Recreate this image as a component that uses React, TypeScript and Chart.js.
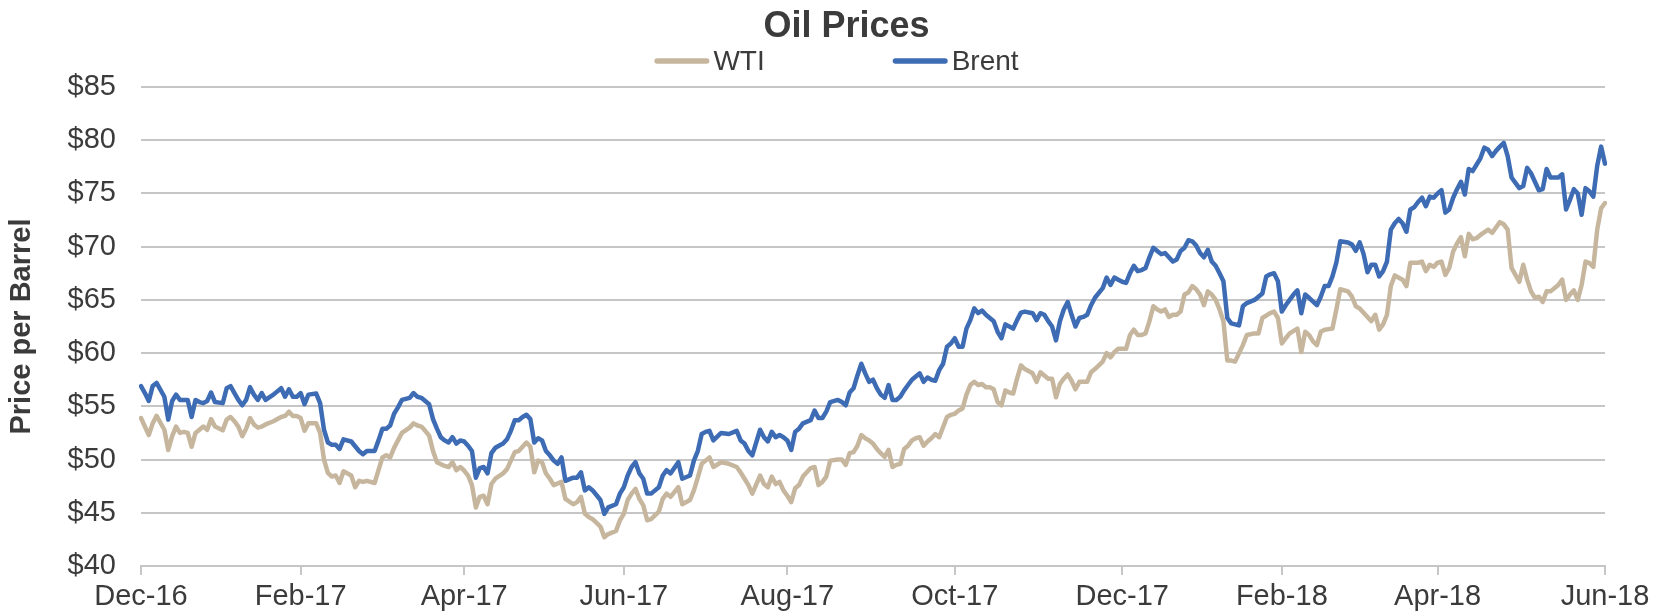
import React, { useEffect, useRef } from "react";
import { Chart, registerables } from "chart.js";

Chart.register(...registerables);

// ---------- text ----------
const TITLE = "Oil Prices";
const Y_TITLE = "Price per Barrel";
const SERIES_NAMES = ["WTI", "Brent"];

// ---------- calendar (NYMEX trading days) ----------
const START = "2016-12-01";
const END = "2018-06-01";
const HOLIDAYS = [
  "2016-12-26", "2017-01-02", "2017-01-16", "2017-02-20", "2017-04-14",
  "2017-05-29", "2017-07-04", "2017-09-04", "2017-11-23", "2017-12-25",
  "2018-01-01", "2018-01-15", "2018-02-19", "2018-03-30", "2018-05-28",
];
const MONTHS = ["Jan", "Feb", "Mar", "Apr", "May", "Jun", "Jul", "Aug", "Sep", "Oct", "Nov", "Dec"];
const TICK_LABELS = ["Dec-16", "Feb-17", "Apr-17", "Jun-17", "Aug-17", "Oct-17", "Dec-17", "Feb-18", "Apr-18", "Jun-18"];

// ---------- y axis ----------
const Y_MIN = 40;
const Y_MAX = 85;
const Y_STEP = 5;

// ---------- series: one value per trading day ($/bbl), null = not read ----------
const WTI = [
  53.9, 53.1, 52.3, 53.4, 54.1, null, 52.8, 50.9, 52.2, 53.1,
  52.5, 52.6, 52.5, 51.2, 52.5, 52.8, 53.1, 52.8, 53.8, 53.1,
  null, 52.75, 53.75, 54.0, 53.6, 53.1, 52.2, 52.9, 53.9, 53.3,
  53.0, 53.1, 53.3, null, 53.6, null, 54.0, 54.1, 54.5, 54.1,
  54.1, 53.9, 52.7, 53.4, null, 53.4, 52.5, 50.0, 48.75, 48.4,
  48.5, 47.8, 48.9, null, 48.5, 47.4, 48.0, 47.9, 48.0, null,
  47.8, 49.0, 50.2, 50.4, 50.2, 51.1, 51.8, 52.5, null, 53.0,
  53.4, 53.2, 53.1, 52.7, 52.25, 50.8, 49.75, null, 49.4, 49.3,
  49.75, 49.0, 49.3, 48.97, 48.5, 47.6, 45.5, 46.5, 46.6, 45.8,
  47.7, 48.2, null, 48.7, 49.1, 49.9, 50.7, 50.8, 51.2, 51.6,
  51.2, 48.8, 49.9, 49.75, 48.7, 48.2, 47.6, null, 47.9, 46.3,
  null, 45.8, 46.0, 46.5, 44.9, 44.6, 44.4, null, 43.7, 42.7,
  43.0, null, 43.3, 44.3, 44.9, 46.2, 46.8, 47.25, 46.3, 45.7,
  44.3, 44.4, null, 45.1, 46.3, 46.8, 46.5, null, 47.4, 45.8,
  null, 46.2, 47.1, 48.3, 49.6, 49.9, 50.2, 49.3, null, 49.75,
  null, 49.6, null, 49.3, 48.8, 48.2, 47.6, 46.8, null, 48.5,
  47.7, 47.4, 48.4, 47.7, 47.9, 47.1, 46.6, 46.0, 47.3, 47.6,
  48.4, null, 49.2, 49.3, 47.6, 47.9, 48.4, 49.9, null, 50.0,
  50.0, 49.5, 50.6, 50.7, 51.3, 52.3, 52.0, 51.8, 51.5, 51.0,
  50.6, 50.25, 50.9, 49.3, 49.5, 49.6, 51.0, 51.3, 51.8, 52.0,
  52.1, 51.3, 51.7, 52.0, 52.4, 52.1, null, 54.0, 54.2, 54.3,
  54.6, 54.8, 56.1, 57.0, 57.3, 57.0, 57.1, 56.8, 56.8, 56.6,
  55.4, 55.1, 56.5, 56.3, 56.2, 57.6, 58.85, 58.5, null, 58.1,
  57.3, 58.2, 57.9, 57.6, 57.6, 55.85, 57.1, 57.6, 58.0, 57.4,
  56.6, 57.3, 57.3, 57.3, 58.2, 58.5, null, 59.2, 60.0, 59.6,
  60.1, 60.4, 60.4, 60.4, 61.7, 62.2, 61.7, 61.7, 61.85, 63.0,
  64.4, 64.1, 63.9, 64.1, 63.4, 63.6, 63.6, 63.9, 65.5, 65.7,
  66.3, 66.0, 65.5, 64.5, 65.8, 65.5, 65.0, 64.1, 63.0, 59.3,
  59.3, 59.2, null, 60.75, 61.7, null, 61.85, 61.85, 63.3, null,
  63.75, 63.9, 63.3, 60.9, 61.4, 61.85, null, 62.3, 60.1, 62.0,
  61.7, 61.1, 60.75, 62.0, 62.2, null, 62.3, 64.1, 66.0, null,
  65.8, 65.3, 64.4, 64.2, null, 63.4, 63.0, 63.6, 62.2, 62.7,
  63.6, 66.3, 67.3, null, 66.9, 66.3, 68.5, 68.5, 68.5, 68.6,
  67.7, 68.3, 68.1, 68.5, 68.6, 67.35, 68.0, 69.55, 70.3, 70.9,
  69.1, 71.2, 70.7, 70.8, 71.1, null, 71.6, 71.3, 71.8, 72.3,
  72.1, 71.6, 68.0, 67.35, 66.7, 68.3, 66.9, 65.8, 65.2, 65.3,
  64.8, 65.8, 65.8, 66.1, 66.4, 66.9, 65.0, 65.5, 65.9, 65.0,
  66.4, 68.6, 68.45, 68.1, 71.6, 73.6, 74.1,
];

const BRENT = [
  56.9, 56.25, 55.5, 56.9, 57.2, null, 55.9, 53.75, 55.5, 56.1,
  55.6, 55.6, 55.6, 54.0, 55.6, 55.4, 55.3, 55.5, 56.3, 55.4,
  null, 55.3, 56.7, 56.9, 56.25, 55.6, 55.1, 55.6, 56.8, 56.1,
  55.6, 56.25, 55.6, null, 56.1, null, 56.7, 55.9, 56.6, 55.9,
  55.9, 56.25, 55.2, 56.1, null, 56.2, 55.3, 52.8, 51.6, 51.4,
  51.4, 51.0, 51.9, null, 51.7, null, 50.8, 50.5, 50.8, null,
  50.8, 51.8, 52.9, 52.9, 53.2, 54.3, 54.9, 55.6, null, 55.8,
  56.25, 55.9, 55.8, 55.5, 55.2, 53.8, 52.9, 52.1, 51.8, 51.6,
  52.1, 51.5, 51.8, 51.7, 51.3, 50.8, 48.3, 49.2, 49.3, 48.7,
  50.6, 51.1, null, 51.5, 51.9, 52.7, 53.7, 53.7, 54.0, 54.2,
  53.8, 51.6, 52.0, 51.8, 50.8, 50.4, 49.9, 49.6, 50.2, 48.0,
  null, 48.3, 48.3, 48.8, 47.1, 47.4, 47.1, null, 46.2, 44.9,
  45.5, null, 45.8, 46.8, 47.4, 48.5, 49.3, 49.75, 48.7, 48.2,
  46.8, 46.8, null, 47.4, 48.5, 49.0, 48.7, null, 49.75, 48.2,
  null, 48.5, 49.9, 50.8, 52.4, 52.6, 52.7, 51.8, null, 52.5,
  null, 52.4, null, 52.7, 51.8, 51.5, 50.8, 50.4, null, 52.8,
  52.1, 51.7, 52.6, 52.1, 52.3, 52.1, 51.8, 50.9, 52.6, 52.9,
  53.4, null, 53.7, 54.6, 53.9, 53.9, 54.5, 55.4, null, 55.6,
  55.4, 55.1, 56.3, 56.7, 57.9, 59.0, 58.1, 57.3, 57.5, 56.7,
  56.1, 55.8, 57.0, 55.6, 55.6, 55.9, 56.5, 57.0, 57.5, 57.8,
  58.1, 57.3, 57.7, 57.5, 57.4, 58.4, 59.0, 60.6, 60.9, 61.4,
  60.6, 60.6, 62.3, 63.1, 64.2, 63.75, 64.0, 63.6, 63.3, 63.0,
  62.0, 61.4, 62.7, 62.5, 62.3, 63.1, 63.8, 63.9, null, 63.75,
  63.1, 63.75, 63.6, 63.0, 62.5, 61.2, 63.0, 64.1, 64.8, 63.6,
  62.5, 63.3, 63.4, 63.6, 64.5, 65.2, null, 66.1, 67.1, 66.4,
  67.1, 66.9, 66.7, 66.6, 67.5, 68.2, 67.7, 67.8, 68.0, 69.0,
  69.9, 69.6, 69.3, 69.4, 69.0, 68.6, 68.8, 69.6, 69.9, 70.6,
  70.5, 70.1, 69.4, 69.0, 69.7, 68.6, 68.2, 67.5, 66.75, 63.3,
  62.8, 62.7, 62.6, 64.4, 64.7, null, 65.0, 65.3, 65.6, 67.2,
  67.4, 67.5, 66.75, 63.9, 64.5, 65.0, 65.5, 65.9, 63.75, 65.5,
  65.2, null, 64.5, 65.3, 66.3, 66.3, 67.2, 68.5, 70.5, null,
  70.4, 70.2, 69.6, 70.4, 69.3, 67.6, 68.3, 68.3, 67.2, 67.7,
  68.6, 71.6, 72.2, 72.6, 72.2, 71.4, 73.5, 73.7, 74.2, 74.6,
  73.8, 74.7, 74.6, 75.0, 75.3, 73.2, 73.5, 74.6, 75.4, 76.1,
  74.9, 77.3, 77.1, 77.7, 78.3, 79.3, 79.1, 78.5, 79.0, 79.4,
  79.75, 78.5, 76.5, 76.0, 75.5, 75.7, 77.4, 76.9, 76.1, 75.3,
  75.4, 77.3, 76.5, 76.5, 76.5, 76.8, 73.5, 74.4, 75.4, 75.0,
  73.0, 75.5, 75.2, 74.7, 77.6, 79.4, 77.8,
];

// ---------- style ----------
const FONT = '"Liberation Sans", Arial, Helvetica, sans-serif';
const TEXT_COLOR = "#3b3b3b";
const GRID_COLOR = "#c6c6c6";
const SERIES_COLORS = ["#C7B69E", "#3E6CB4"];
const W = 1667;
const H = 614;

function tradingDays(): string[] {
  const out: string[] = [];
  const [sy, sm, sd] = START.split("-").map(Number);
  const [ey, em, ed] = END.split("-").map(Number);
  const end = Date.UTC(ey, em - 1, ed);
  for (let t = Date.UTC(sy, sm - 1, sd); t <= end; t += 86400000) {
    const d = new Date(t);
    const wd = d.getUTCDay();
    if (wd === 0 || wd === 6) continue;
    const iso = d.toISOString().slice(0, 10);
    if (HOLIDAYS.includes(iso)) continue;
    out.push(iso);
  }
  return out;
}

function fmtMonth(iso: string): string {
  const y = iso.slice(2, 4);
  const m = Number(iso.slice(5, 7)) - 1;
  return `${MONTHS[m]}-${y}`;
}

const headerPlugin = {
  id: "header",
  afterDraw(chart: any) {
    const { ctx, width } = chart;
    ctx.save();
    ctx.fillStyle = TEXT_COLOR;
    ctx.textBaseline = "alphabetic";
    ctx.textAlign = "center";
    ctx.font = `bold 36px ${FONT}`;
    ctx.fillText(TITLE, width / 2 + 13, 37);

    ctx.font = `28px ${FONT}`;
    ctx.textAlign = "left";
    const lineLen = 55;
    const textGap = 4;
    const itemGap = 128;
    const lw = 5.5;
    const items = chart.data.datasets.map((ds: any) => ({
      label: ds.label,
      color: ds.borderColor,
      w: lineLen + textGap + ctx.measureText(ds.label).width,
    }));
    const total = items.reduce((s: number, it: any) => s + it.w, 0) + itemGap * (items.length - 1);
    let x = width / 2 + 3 - total / 2;
    const ly = 61;
    for (const it of items) {
      ctx.strokeStyle = it.color;
      ctx.lineWidth = lw;
      ctx.lineCap = "round";
      ctx.beginPath();
      ctx.moveTo(x + lw / 2, ly);
      ctx.lineTo(x + lineLen - lw / 2, ly);
      ctx.stroke();
      ctx.fillText(it.label, x + lineLen + textGap, 70);
      x += it.w + itemGap;
    }
    ctx.restore();
  },
};

export default function App() {
  const ref = useRef<HTMLCanvasElement | null>(null);

  useEffect(() => {
    if (!ref.current) return;
    const labels = tradingDays();
    const tickIdx = TICK_LABELS.map((t) => labels.findIndex((d) => fmtMonth(d) === t)).filter((i) => i >= 0);

    const chart = new Chart(ref.current, {
      type: "line",
      data: {
        labels,
        datasets: [
          {
            label: SERIES_NAMES[0],
            data: WTI,
            borderColor: SERIES_COLORS[0],
            backgroundColor: SERIES_COLORS[0],
          },
          {
            label: SERIES_NAMES[1],
            data: BRENT,
            borderColor: SERIES_COLORS[1],
            backgroundColor: SERIES_COLORS[1],
          },
        ],
      },
      options: {
        responsive: false,
        animation: false,
        devicePixelRatio: 1,
        spanGaps: true,
        layout: { padding: { top: 87, right: 62, bottom: 0, left: 0 } },
        elements: {
          point: { radius: 0, hoverRadius: 0 },
          line: { borderWidth: 4.5, tension: 0, borderJoinStyle: "round", borderCapStyle: "round", fill: false },
        },
        plugins: {
          legend: { display: false },
          title: { display: false },
          tooltip: { enabled: false },
        },
        scales: {
          x: {
            type: "category",
            offset: false,
            afterBuildTicks: (scale: any) => {
              scale.ticks = tickIdx.map((v) => ({ value: v }));
            },
            afterFit: (scale: any) => {
              scale.height = 48;
            },
            grid: {
              display: true,
              drawOnChartArea: false,
              drawTicks: true,
              tickLength: 9,
              color: GRID_COLOR,
              lineWidth: 2,
            },
            border: { display: true, color: GRID_COLOR, width: 2 },
            ticks: {
              autoSkip: false,
              maxRotation: 0,
              minRotation: 0,
              padding: 5,
              color: TEXT_COLOR,
              font: { family: FONT, size: 29 },
              callback: (value: any) => fmtMonth(labels[Number(value)]),
            },
          },
          y: {
            type: "linear",
            min: Y_MIN,
            max: Y_MAX,
            afterFit: (scale: any) => {
              scale.width = 141;
            },
            grid: { color: GRID_COLOR, lineWidth: 2, drawTicks: false },
            border: { display: false },
            ticks: {
              stepSize: Y_STEP,
              padding: 25,
              color: TEXT_COLOR,
              font: { family: FONT, size: 29 },
              callback: (v: any) => `$${v}`,
            },
            title: {
              display: true,
              text: Y_TITLE,
              color: TEXT_COLOR,
              font: { family: FONT, size: 29, weight: "bold" },
              padding: { top: 5, bottom: 0 },
            },
          },
        },
      },
      plugins: [headerPlugin],
    });

    return () => chart.destroy();
  }, []);

  return (
    <div style={{ position: "absolute", left: 0, top: 0, width: W, height: H, background: "#ffffff" }}>
      <canvas ref={ref} width={W} height={H} style={{ display: "block", width: W, height: H }} />
    </div>
  );
}
